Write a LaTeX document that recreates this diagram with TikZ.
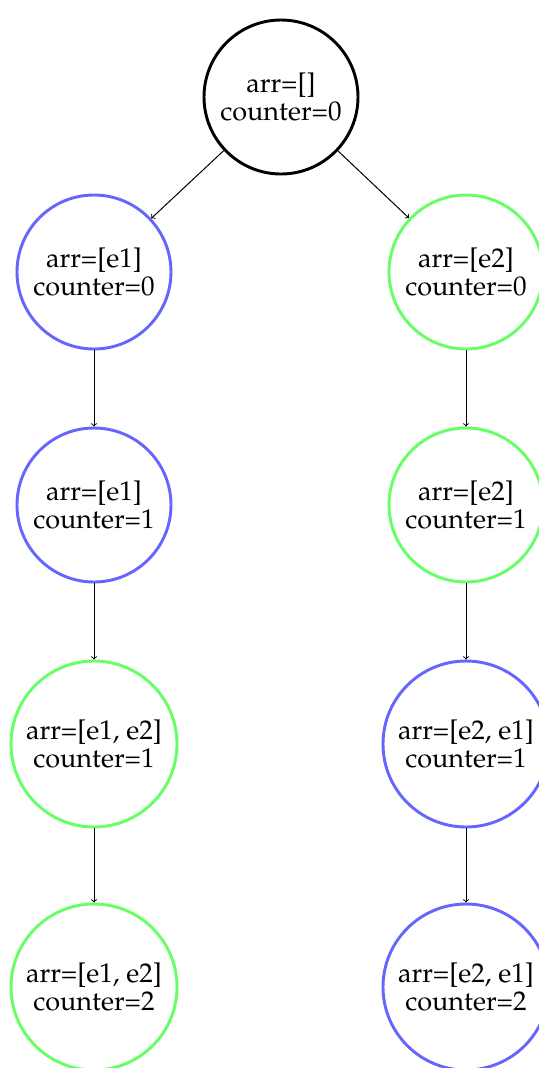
\documentclass[tikz,border=0pt]{standalone}
\usepackage[T1]{fontenc}
\usepackage{mathpazo}
\definecolor{stblue}{RGB}{102,102,255}
\definecolor{stgreen}{RGB}{102,255,102}
\tikzset{
  state/.style={circle, draw, line width=2.2pt, inner sep=0pt, align=center,
    font=\fontsize{20.3}{21}\selectfont},
  small/.style={minimum size=115.5pt},
  wide/.style={minimum size=124.5pt},
  blue state/.style={state, draw=stblue},
  green state/.style={state, draw=stgreen},
  edge/.style={->, line width=0.75pt}
}
\begin{document}
\begin{tikzpicture}[x=0.75pt, y=-0.75pt]
  \useasboundingbox (0,0) rectangle (539,1068);
  \clip (0,0) rectangle (539,1068);
  \node[state, small, draw=black] (root) at (281,97) {arr=[]\\counter=0};
  % left branch
  \node[blue state, small] (l1) at (94,272) {arr=[e1]\\counter=0};
  \node[blue state, small] (l2) at (94,505) {arr=[e1]\\counter=1};
  \node[green state, wide] (l3) at (94,744) {arr=[e1, e2]\\counter=1};
  \node[green state, wide] (l4) at (94,987) {arr=[e1, e2]\\counter=2};
  % right branch
  \node[green state, small] (r1) at (466,272) {arr=[e2]\\counter=0};
  \node[green state, small] (r2) at (466,505) {arr=[e2]\\counter=1};
  \node[blue state, wide] (r3) at (466,744) {arr=[e2, e1]\\counter=1};
  \node[blue state, wide] (r4) at (466,987) {arr=[e2, e1]\\counter=2};
  \draw[edge] (root) -- (l1);
  \draw[edge] (root) -- (r1);
  \draw[edge] (l1) -- (l2);
  \draw[edge] (l2) -- (l3);
  \draw[edge] (l3) -- (l4);
  \draw[edge] (r1) -- (r2);
  \draw[edge] (r2) -- (r3);
  \draw[edge] (r3) -- (r4);
\end{tikzpicture}
\end{document}
